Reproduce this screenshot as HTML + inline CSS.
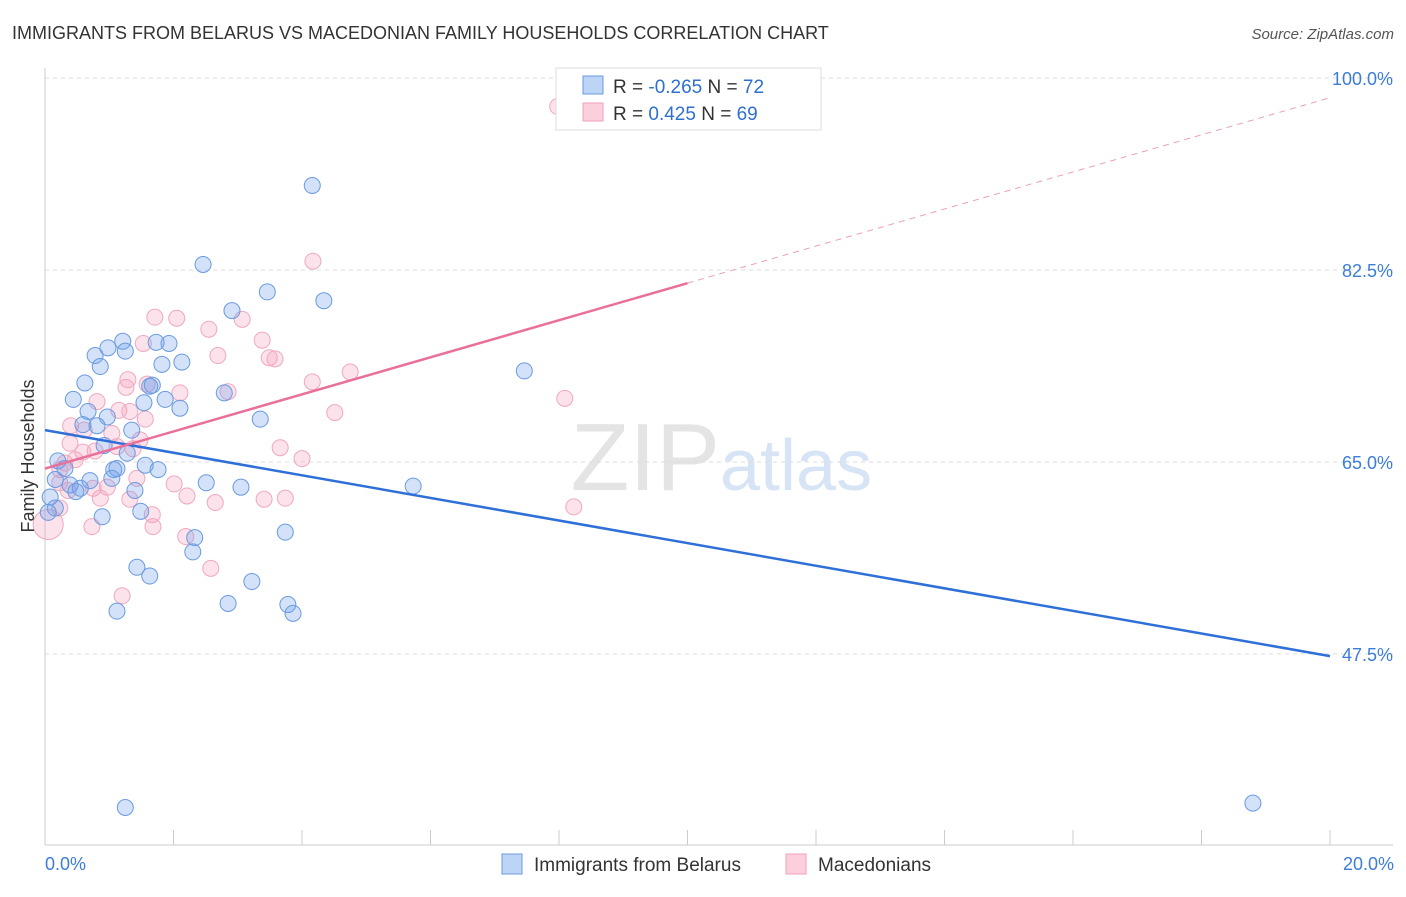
<!DOCTYPE html>
<html><head><meta charset="utf-8">
<style>
body{margin:0;background:#fff;font-family:"Liberation Sans",sans-serif;}
svg text{font-family:"Liberation Sans",sans-serif;}
</style></head>
<body>
<svg id="chart" width="1406" height="892" xmlns="http://www.w3.org/2000/svg">
<text x="12" y="39" font-size="18" fill="#333">IMMIGRANTS FROM BELARUS VS MACEDONIAN FAMILY HOUSEHOLDS CORRELATION CHART</text>
<text x="1394" y="39" font-size="15" fill="#555" text-anchor="end" font-style="italic">Source: ZipAtlas.com</text>
<text x="720" y="490" font-size="96" fill="#e4e4e4" text-anchor="end" font-family="Liberation Serif">ZIP</text>
<text x="720" y="490" font-size="72" fill="#d6e4f5">atlas</text>
<g id="grid"></g>
<g id="axes"></g>
<g id="points"></g>
<g id="lines"></g>
<text transform="translate(34,456) rotate(-90)" font-size="18" fill="#333" text-anchor="middle">Family Households</text>
<text x="45" y="870" font-size="18" fill="#3b7dd8">0.0%</text>
<text x="1394" y="870" font-size="18" fill="#3b7dd8" text-anchor="end">20.0%</text>
<g>
<rect x="556" y="68" width="265" height="62" fill="#fff" stroke="#ddd"/>
<rect x="583" y="76" width="20" height="18" fill="#bcd4f6" stroke="#6a9ae0"/>
<rect x="583" y="103" width="20" height="18" fill="#fbd0dc" stroke="#f0a0b8"/>
<text x="613" y="93" font-size="19" fill="#333">R = <tspan fill="#2f6fd0">-0.265</tspan>   N = <tspan fill="#2f6fd0">72</tspan></text>
<text x="613" y="120" font-size="19" fill="#333">R =  <tspan fill="#2f6fd0"> 0.425</tspan>   N = <tspan fill="#2f6fd0">69</tspan></text>
</g>
<g>
<rect x="502" y="854" width="20" height="20" fill="#bcd4f6" stroke="#6a9ae0"/>
<text x="534" y="871" font-size="19" fill="#333">Immigrants from Belarus</text>
<rect x="786" y="854" width="20" height="20" fill="#fbd0dc" stroke="#f0a0b8"/>
<text x="818" y="871" font-size="19" fill="#333">Macedonians</text>
</g>
</svg>
<script>
const yTicks=[100,82.5,65,47.5];
const yTickLabels=["100.0%","82.5%","65.0%","47.5%"];
const blueX=[4.16,2.46,3.46,4.34,2.91,1.21,1.73,1.93,0.98,1.25,0.78,0.86,1.82,2.13,7.46,0.62,1.63,1.67,2.79,0.44,1.54,1.87,2.10,0.67,0.97,3.35,0.59,0.81,1.35,0.92,1.28,0.20,1.56,1.76,0.31,1.07,1.12,1.04,0.70,0.16,0.39,2.51,3.05,5.73,0.55,0.48,1.40,0.08,0.16,0.05,1.49,0.89,3.74,2.33,2.30,1.43,1.63,3.22,2.85,3.78,3.86,1.12,1.25,18.8];
const blueY=[90.2,83.0,80.5,79.7,78.8,76.0,75.9,75.8,75.4,75.1,74.7,73.7,73.9,74.1,73.3,72.2,71.9,72.0,71.3,70.7,70.4,70.7,69.9,69.6,69.1,68.9,68.4,68.3,67.9,66.5,65.8,65.1,64.7,64.3,64.4,64.3,64.4,63.5,63.3,63.4,62.9,63.1,62.7,62.8,62.6,62.3,62.4,61.8,60.8,60.4,60.5,60.0,58.6,58.1,56.8,55.4,54.6,54.1,52.1,52.0,51.2,51.4,33.5,33.9];
const pinkX=[7.98,4.17,1.71,2.05,3.07,2.55,3.38,1.53,2.69,3.49,3.58,4.75,1.29,4.16,1.26,1.59,2.10,2.85,8.09,0.81,1.15,1.32,4.51,1.56,0.40,0.61,1.04,1.48,0.39,1.12,0.59,0.78,3.66,1.37,0.47,0.31,4.0,1.43,2.01,0.23,0.75,0.97,2.21,2.65,3.41,3.74,1.67,0.86,1.32,8.23,0.23,0.73,1.68,2.19,2.58,1.20,0.23,0.36];
const pinkY=[97.4,83.3,78.2,78.1,78.0,77.1,76.1,75.8,74.7,74.5,74.4,73.2,72.5,72.3,71.8,72.1,71.3,71.4,70.8,70.5,69.7,69.6,69.5,68.9,68.3,67.9,67.6,67.0,66.7,66.4,65.9,66.0,66.3,66.2,65.2,64.9,65.3,63.5,63.0,63.1,62.6,62.7,61.9,61.3,61.6,61.7,60.2,61.7,61.6,60.9,60.8,59.1,59.1,58.2,55.3,52.8,64.3,62.4];
const blueTrend=[67.9,47.3];
const pinkTrend=[64.4,98.2];
const NS="http://www.w3.org/2000/svg";
const xS=v=>45+v*64.25;
const yS=v=>78+(100-v)*10.97;
function mk(tag,attrs,parent){const e=document.createElementNS(NS,tag);for(const k in attrs)e.setAttribute(k,attrs[k]);document.getElementById(parent).appendChild(e);return e;}
yTicks.forEach((t,i)=>{
  const l=mk('line',{x1:45,x2:1393,y1:yS(t),y2:yS(t),stroke:'#ddd','stroke-dasharray':'4,4'},'grid');
  
  
  const tx=mk('text',{x:1393,y:yS(t)+7,'font-size':18,fill:'#3b7dd8','text-anchor':'end'},'grid');
  tx.textContent=yTickLabels[i];
  
  
});
let a=mk('line',{x1:45,x2:45,y1:68,y2:845,stroke:'#ccc'},'axes');


a=mk('line',{x1:45,x2:1393,y1:845,y2:845,stroke:'#ccc'},'axes');


for(let i=0;i<=10;i++){
  const t=mk('line',{x1:xS(i*2),x2:xS(i*2),y1:830,y2:845,stroke:'#ccc'},'axes');
  
  
}
pinkX.forEach((x,i)=>{
  const c=mk('circle',{cx:xS(x),cy:yS(pinkY[i]),r:8,fill:'rgba(245,160,190,0.3)',stroke:'#f0a8bf','stroke-width':1},'points');
  
  
});
const big=mk('circle',{cx:xS(0.05),cy:yS(59.3),r:15,fill:'rgba(245,160,190,0.3)',stroke:'#f0a8bf'},'points');


blueX.forEach((x,i)=>{
  const c=mk('circle',{cx:xS(x),cy:yS(blueY[i]),r:8,fill:'rgba(110,160,235,0.3)',stroke:'#6a9ae0','stroke-width':1},'points');
  
  
});
let ln=mk('line',{x1:xS(0),y1:yS(blueTrend[0]),x2:xS(20),y2:yS(blueTrend[1]),stroke:'#2f6fd8','stroke-width':2.5},'lines');


const pm=pinkTrend[0]+(pinkTrend[1]-pinkTrend[0])*0.5;
ln=mk('line',{x1:xS(0),y1:yS(pinkTrend[0]),x2:xS(10),y2:yS(pm),stroke:'#e8709a','stroke-width':2.5},'lines');


ln=mk('line',{x1:xS(10),y1:yS(pm),x2:xS(20),y2:yS(pinkTrend[1]),stroke:'#eaa0b8','stroke-width':1,'stroke-dasharray':'6,5'},'lines');


</script>
</body></html>
